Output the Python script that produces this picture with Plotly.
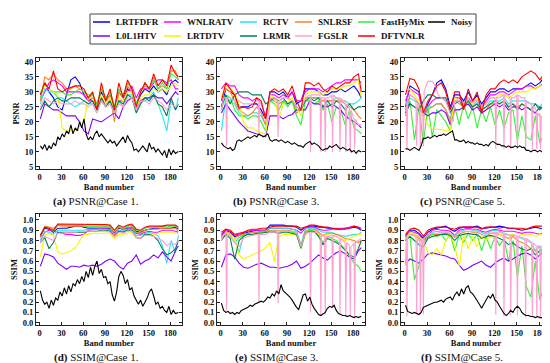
import plotly.graph_objects as go

W, H = 550, 363

# ---------------- data ----------------
bands = list(range(1, 188, 6)) + [191]          # 33 sampled band numbers
noisy_bands = list(range(1, 191, 3)) + [191]    # 65 sampled band numbers
x_tick_vals = [0, 30, 60, 90, 120, 150, 180]

# (a) PSNR @ Case 1
a_lrtfdfr = [29, 33, 30, 28, 25, 24, 29, 34, 35, 33, 29, 27, 28, 26, 30, 27, 29, 25, 30, 28, 31, 30, 26, 29, 31, 30, 32, 30, 31, 29, 33, 34, 33]
a_wnlratv = [27, 30, 33, 34, 33, 32, 30, 30, 30, 30, 29, 27, 27, 24, 28, 26, 27, 24, 27, 27, 30, 32, 28, 31, 31, 31, 33, 34, 34, 33, 34, 31, 31]
a_rctv = [26, 31, 30, 30, 28, 28, 27, 26, 25, 26, 27, 26, 26, 23, 27, 25, 26, 23, 27, 25, 29, 29, 24, 27, 27, 28, 30, 26, 22, 17, 27, 24, 28]
a_snlrsf = [27, 35, 34, 36, 34, 33, 31, 31, 32, 31, 30, 28, 29, 25, 31, 27, 29, 20, 30, 28, 32, 30, 25, 30, 32, 31, 35, 31, 32, 31, 37, 37, 34]
a_fasthymix = [28, 33, 31, 30, 30, 30, 29, 29, 30, 31, 30, 29, 29, 26, 31, 28, 30, 25, 31, 29, 33, 31, 26, 30, 33, 31, 34, 31, 33, 31, 36, 35, 34]
a_l0l1htv = [21, 26, 25, 24, 24, 23, 22, 22, 22, 20, 17, 16, 21, 20.5, 20, 21, 22, 23, 21, 25, 27, 28, 24, 27, 28, 28, 29, 28, 28, 26, 28, 30, 29]
a_lrtdtv = [30, 32, 31, 30, 29, 18, 17, 17, 17.5, 18.5, 20, 28, 28, 25, 29, 26, 28, 24, 28, 27, 30, 30, 25, 28, 29, 29, 31, 30, 31, 30, 32, 33, 32]
a_lrmr = [24, 27, 25, 27, 28, 27, 27, 28, 28, 28, 27, 26, 27, 24, 28, 25, 27, 23, 27, 26, 29, 28, 23, 26, 28, 27, 29, 26, 25, 22, 28, 24, 26]
a_fgslr = [25, 28, 27, 26, 27, 26, 26, 26, 27, 26, 26, 25, 26, 23, 27, 25, 26, 23, 26, 25, 28, 28, 24, 27, 27, 26, 28, 27, 26, 24, 26, 25, 26]
a_dftvnlr = [29, 33, 31, 37, 31, 30, 31, 31.5, 32, 32, 31, 28, 30, 24, 33, 27, 31, 24, 33, 28, 34, 31, 25, 30, 33, 31, 36, 32, 34, 32, 39, 36, 35]
a_noisy = [12, 11, 12.5, 10.5, 12, 11, 13, 12, 15, 14, 16, 15, 17, 16, 19, 16, 18, 17, 20, 18,
           21, 16, 14, 15, 14, 16, 17, 15, 16, 15, 14, 13, 14, 13, 13.5, 12, 13, 14, 15, 13,
           15.5, 14, 13, 10.5, 11, 10, 11, 12, 11, 10, 13, 11, 11.5, 10, 11, 10, 9, 10.5, 8, 11,
           9, 10.5, 9.5, 10, 10]

# (b) PSNR @ Case 3
b_lrtfdfr = [25, 31, 30, 29, 25, 25, 25, 26, 26, 24, 21, 30, 30, 29, 30, 28, 30, 26, 27, 31, 31, 31, 30, 29, 29, 30, 30, 31, 30, 31, 32, 30, 28]
b_wnlratv = [31, 33, 32, 32, 29, 28, 28, 27, 28, 26, 22, 29, 29, 28, 29, 28, 30, 27, 27, 30, 31, 31, 31, 30, 31, 32, 33, 33, 34, 34, 34, 34, 33]
b_rctv = [17, 28, 27, 26, 23, 22, 22, 23, 23, 22, 19, 27, 27, 26, 27, 26, 27, 24, 24, 28, 28, 28, 28, 27, 27, 27, 28, 27, 27, 26, 26, 27, 28]
b_snlrsf = [28, 31, 30, 27, 24, 23, 22, 23, 25, 23, 19, 28, 27, 26, 27, 26, 27, 23, 24, 28, 28, 28, 28, 27, 27, 27, 27, 27, 26, 25, 24, 22, 21]
b_fasthymix = [24, 29, 28, 24, 22, 22, 21, 22, 22, 20, 17, 27, 26, 24, 27, 25, 27, 22, 19, 27, 27, 26, 27, 24, 26, 20, 25, 24, 19, 24, 18, 17, 16]
b_l0l1htv = [23, 26, 24, 22, 20, 18.5, 17, 16.5, 16, 15.5, 15, 22, 22, 22, 21, 22, 22.5, 24, 24, 24, 27, 26, 26, 25, 25, 26, 25, 24, 22, 21, 20, 19, 18]
b_lrtdtv = [28, 32, 31, 30, 26, 20, 18, 18, 17, 16.5, 16, 29, 28, 21, 26, 27, 28, 25, 22, 29, 30, 30, 30, 29, 30, 31, 31, 31, 32, 32, 33, 34, 28]
b_lrmr = [25, 29, 26, 29, 30, 30, 30, 29, 29, 29, 26, 27, 28, 27, 28, 26, 27, 25, 24, 27, 28, 27, 28, 25, 27, 25, 27, 26, 24, 26, 24, 25, 25]
b_fgslr = [(1, 24), (4, 28), (7, 28), (8, 12), (9, 28), (13, 28), (19, 27), (25, 27), (31, 26), (37, 26),
           (43, 26), (49, 27), (51, 27), (52, 16), (53, 27), (57, 25), (61, 21), (64, 20), (67, 28), (73, 28),
           (77, 27), (78, 15), (79, 27), (85, 28), (91, 28), (97, 27), (103, 25), (109, 24), (115, 28), (121, 29),
           (122, 10), (123, 29), (129, 29), (135, 29), (136, 10), (137, 28), (141, 28), (142, 10), (143, 28), (147, 28),
           (151, 29), (152, 10), (153, 29), (157, 28), (161, 28), (162, 10), (163, 28), (166, 27), (169, 27), (170, 10),
           (171, 26), (174, 25), (175, 24), (176, 10), (177, 24), (180, 22), (181, 21), (182, 11), (183, 21), (187, 19),
           (191, 19)]
b_dftvnlr = [27, 33, 31, 29, 24.5, 25, 24.5, 25, 28, 27, 21, 30, 31, 30, 31, 29, 32, 27, 24, 33, 33, 32, 33, 31, 30, 32, 31, 32, 33, 33, 35, 36, 30]
b_noisy = [13, 12, 11.5, 11, 11.5, 10.5, 11, 13.5, 14, 13.5, 14, 14.5, 15, 14.5, 15, 15.5, 15, 16, 15.5, 15,
           15.5, 16, 14, 13.5, 14, 14, 13.5, 14, 13.5, 13, 13.5, 13, 12.5, 13, 12.5, 12, 12, 11.5, 12.5, 13,
           13.5, 12.5, 13, 12.5, 12, 11, 10.5, 11, 11, 12, 11.5, 12, 12.5, 11.5, 11, 11.5, 11, 10.5, 11, 10,
           10.5, 9.5, 10.5, 10, 10]

# (c) PSNR @ Case 5
c_lrtfdfr = [25, 32, 31, 30, 22, 26, 29, 33, 34, 31, 25, 29, 29, 27, 30, 27, 29, 26, 28, 30, 30, 31, 31, 30, 31, 31, 31, 32, 33, 32, 33, 35, 30]
c_wnlratv = [27, 31, 30, 29, 22, 25, 27, 28, 28, 27, 24, 28, 28, 26, 28, 26, 28, 25, 27, 29, 29, 30, 30, 29, 30, 31, 31, 32, 32, 31, 32, 33, 31]
c_rctv = [23, 28, 27, 26, 23, 25, 25, 26, 26, 24, 21, 27, 27, 25, 27, 25, 27, 24, 25, 27, 27, 27, 28, 26, 27, 27, 27, 27, 26, 26, 25, 27, 25]
c_snlrsf = [24, 29, 28, 26, 22, 24, 25, 26, 26, 24, 20, 27, 26, 25, 26, 25, 26, 23, 24, 26, 26, 26, 27, 25, 26, 25, 26, 25, 24, 23, 22, 21, 20]
c_fasthymix = [22, 27, 14, 25, 13, 25, 15, 24, 22, 20, 17, 25, 19, 26, 21, 25, 18, 24, 20, 25, 19, 24, 18, 23, 24, 14, 22, 15, 14, 22, 13, 16, 16]
c_l0l1htv = [23, 26, 25, 24, 23, 22, 23, 23, 24, 23, 19, 24, 24, 25, 26, 24, 25, 23, 24, 25, 26, 25, 26, 24, 25, 25, 24, 25, 24, 23, 25, 24, 22]
c_lrtdtv = [30, 31, 29, 27, 22, 19, 17.5, 17.5, 17.5, 17, 17, 28, 27, 26, 27, 26, 28, 25, 26, 28, 28, 29, 29, 28, 29, 30, 30, 30, 31, 31, 32, 32, 32]
c_lrmr = [25, 26, 25, 24, 27, 29, 29, 28, 28, 28, 23, 26, 27, 25, 27, 25, 26, 24, 25, 26, 27, 26, 27, 25, 26, 24, 26, 25, 24, 26, 24, 26, 26]
c_fgslr = [(1, 26), (2, 27), (3, 11), (4, 28), (7, 29), (13, 28), (15, 27), (16, 12), (17, 26), (19, 25),
           (20, 24), (21, 11), (22, 24), (24, 25), (25, 12), (26, 30), (31, 33.5), (37, 33.5), (41, 32), (45, 29),
           (49, 28), (55, 27), (61, 23), (65, 20), (67, 27), (73, 27), (79, 26), (85, 28), (91, 27), (97, 27),
           (103, 25), (109, 26), (115, 28), (121, 28), (122, 11), (123, 28), (127, 28), (132, 29), (133, 11), (134, 29),
           (138, 29), (141, 28), (142, 11), (143, 28), (147, 28), (150, 29), (151, 11), (152, 29), (157, 28), (161, 28),
           (162, 11), (163, 27), (167, 26), (170, 26), (171, 11), (172, 25), (174, 25), (176, 24), (177, 11), (178, 23),
           (180, 22), (181, 23), (182, 11), (183, 22), (187, 20), (191, 18)]
c_dftvnlr = [29, 34.5, 34, 31, 23, 27, 29, 32, 33, 30, 24, 30, 30, 24, 31, 27, 30, 23, 29, 31, 31, 33, 34, 33, 34, 33, 35, 36, 37, 36, 34, 36, 33]
c_noisy = [11, 11, 10.5, 11, 11.5, 11, 10.5, 12, 14.5, 14.5, 15, 14.5, 15, 15.5, 15, 15.5, 15.5, 16, 15.5, 16,
           16.5, 17, 14, 14, 13.5, 13.5, 14, 13, 13.5, 13, 13, 12.5, 13, 12.5, 12.5, 12, 12.5, 12, 13, 13.5,
           13, 12.5, 12.5, 12, 12, 11.5, 12, 11.5, 11.5, 12, 11.5, 12, 11.5, 11.5, 10.5, 10.5, 10, 10.5, 10.5, 10,
           10.5, 10, 11, 10.5, 10.5]

# (d) SSIM @ Case 1
d_lrtfdfr = [0.84, 0.92, 0.91, 0.88, 0.92, 0.92, 0.92, 0.93, 0.94, 0.94, 0.93, 0.92, 0.92, 0.92, 0.92, 0.92, 0.92, 0.87, 0.92, 0.91, 0.92, 0.93, 0.89, 0.88, 0.90, 0.91, 0.92, 0.92, 0.92, 0.92, 0.92, 0.93, 0.91]
d_wnlratv = [0.80, 0.88, 0.90, 0.90, 0.88, 0.87, 0.86, 0.86, 0.85, 0.85, 0.86, 0.90, 0.91, 0.91, 0.92, 0.92, 0.90, 0.85, 0.90, 0.89, 0.91, 0.92, 0.87, 0.86, 0.88, 0.89, 0.88, 0.88, 0.90, 0.90, 0.90, 0.89, 0.88]
d_rctv = [0.80, 0.89, 0.88, 0.86, 0.90, 0.90, 0.90, 0.90, 0.90, 0.90, 0.90, 0.91, 0.91, 0.91, 0.91, 0.91, 0.90, 0.85, 0.90, 0.89, 0.91, 0.91, 0.85, 0.85, 0.87, 0.88, 0.86, 0.85, 0.75, 0.58, 0.80, 0.68, 0.85]
d_snlrsf = [0.83, 0.94, 0.93, 0.92, 0.95, 0.94, 0.94, 0.94, 0.94, 0.94, 0.94, 0.93, 0.93, 0.93, 0.93, 0.93, 0.93, 0.86, 0.93, 0.91, 0.93, 0.93, 0.88, 0.87, 0.90, 0.91, 0.91, 0.91, 0.92, 0.92, 0.92, 0.92, 0.89]
d_fasthymix = [0.85, 0.93, 0.92, 0.89, 0.95, 0.95, 0.95, 0.95, 0.95, 0.95, 0.94, 0.94, 0.94, 0.94, 0.94, 0.94, 0.94, 0.89, 0.94, 0.92, 0.94, 0.95, 0.90, 0.89, 0.92, 0.93, 0.93, 0.93, 0.94, 0.93, 0.94, 0.94, 0.92]
d_l0l1htv = [0.55, 0.67, 0.66, 0.64, 0.58, 0.55, 0.52, 0.55, 0.55, 0.54, 0.56, 0.55, 0.56, 0.55, 0.57, 0.60, 0.62, 0.60, 0.55, 0.52, 0.58, 0.60, 0.66, 0.57, 0.60, 0.62, 0.66, 0.63, 0.69, 0.64, 0.60, 0.70, 0.75]
d_lrtdtv = [0.64, 0.85, 0.87, 0.85, 0.69, 0.67, 0.68, 0.70, 0.73, 0.80, 0.86, 0.86, 0.87, 0.87, 0.87, 0.87, 0.87, 0.82, 0.86, 0.85, 0.87, 0.88, 0.83, 0.82, 0.85, 0.86, 0.86, 0.87, 0.88, 0.88, 0.88, 0.87, 0.86]
d_lrmr = [0.78, 0.83, 0.72, 0.78, 0.88, 0.88, 0.88, 0.88, 0.88, 0.88, 0.88, 0.89, 0.89, 0.89, 0.90, 0.90, 0.89, 0.84, 0.89, 0.88, 0.90, 0.90, 0.83, 0.82, 0.86, 0.86, 0.84, 0.80, 0.72, 0.66, 0.68, 0.72, 0.80]
d_fgslr = [0.78, 0.84, 0.82, 0.80, 0.87, 0.87, 0.88, 0.88, 0.88, 0.89, 0.89, 0.89, 0.89, 0.89, 0.89, 0.89, 0.88, 0.84, 0.88, 0.87, 0.89, 0.89, 0.83, 0.82, 0.85, 0.85, 0.84, 0.82, 0.80, 0.75, 0.78, 0.76, 0.80]
d_dftvnlr = [0.85, 0.93, 0.92, 0.90, 0.96, 0.96, 0.96, 0.96, 0.96, 0.96, 0.955, 0.955, 0.955, 0.955, 0.955, 0.955, 0.95, 0.90, 0.95, 0.93, 0.95, 0.96, 0.91, 0.90, 0.93, 0.94, 0.94, 0.94, 0.94, 0.95, 0.95, 0.95, 0.93]
d_noisy = [0.31, 0.22, 0.18, 0.20, 0.14, 0.22, 0.17, 0.24, 0.22, 0.30, 0.26, 0.34, 0.28, 0.36, 0.30, 0.38, 0.36, 0.42, 0.38, 0.45,
           0.40, 0.50, 0.44, 0.54, 0.46, 0.55, 0.60, 0.48, 0.52, 0.44, 0.45, 0.38, 0.40, 0.27, 0.21, 0.30, 0.45, 0.50, 0.46, 0.38,
           0.42, 0.32, 0.34, 0.26, 0.22, 0.18, 0.22, 0.16, 0.20, 0.24, 0.30, 0.33, 0.26, 0.18, 0.20, 0.14, 0.16, 0.12, 0.10, 0.16,
           0.08, 0.12, 0.09, 0.10, 0.10]

# (e) SSIM @ Case 3
e_lrtfdfr = [0.86, 0.90, 0.88, 0.84, 0.85, 0.87, 0.88, 0.89, 0.90, 0.90, 0.90, 0.95, 0.95, 0.95, 0.95, 0.94, 0.94, 0.93, 0.90, 0.93, 0.94, 0.94, 0.93, 0.93, 0.92, 0.92, 0.91, 0.91, 0.92, 0.92, 0.93, 0.92, 0.90]
e_wnlratv = [0.84, 0.90, 0.89, 0.85, 0.86, 0.88, 0.89, 0.90, 0.90, 0.90, 0.90, 0.92, 0.92, 0.92, 0.92, 0.92, 0.91, 0.90, 0.87, 0.92, 0.93, 0.93, 0.91, 0.90, 0.90, 0.91, 0.91, 0.92, 0.92, 0.93, 0.94, 0.93, 0.92]
e_rctv = [0.80, 0.88, 0.86, 0.82, 0.68, 0.85, 0.87, 0.88, 0.88, 0.89, 0.89, 0.92, 0.92, 0.92, 0.92, 0.92, 0.91, 0.90, 0.76, 0.91, 0.92, 0.92, 0.90, 0.88, 0.88, 0.88, 0.86, 0.85, 0.84, 0.85, 0.86, 0.86, 0.88]
e_snlrsf = [0.83, 0.88, 0.87, 0.82, 0.85, 0.86, 0.87, 0.88, 0.88, 0.89, 0.89, 0.90, 0.90, 0.90, 0.90, 0.90, 0.89, 0.88, 0.74, 0.89, 0.91, 0.91, 0.88, 0.85, 0.87, 0.87, 0.86, 0.84, 0.82, 0.81, 0.80, 0.78, 0.80]
e_fasthymix = [0.82, 0.87, 0.84, 0.78, 0.83, 0.85, 0.86, 0.85, 0.87, 0.88, 0.88, 0.89, 0.89, 0.88, 0.89, 0.89, 0.88, 0.87, 0.72, 0.88, 0.90, 0.89, 0.85, 0.78, 0.84, 0.82, 0.80, 0.76, 0.72, 0.65, 0.58, 0.55, 0.50]
e_l0l1htv = [0.54, 0.66, 0.67, 0.64, 0.58, 0.54, 0.53, 0.55, 0.57, 0.58, 0.56, 0.54, 0.54, 0.53, 0.54, 0.55, 0.57, 0.60, 0.53, 0.55, 0.58, 0.62, 0.66, 0.63, 0.61, 0.65, 0.68, 0.70, 0.67, 0.64, 0.62, 0.70, 0.73]
e_lrtdtv = [0.80, 0.88, 0.86, 0.82, 0.66, 0.62, 0.64, 0.66, 0.68, 0.70, 0.73, 0.78, 0.60, 0.84, 0.86, 0.86, 0.86, 0.85, 0.73, 0.86, 0.88, 0.88, 0.86, 0.84, 0.86, 0.85, 0.84, 0.82, 0.80, 0.82, 0.84, 0.86, 0.86]
e_lrmr = [0.80, 0.86, 0.82, 0.62, 0.80, 0.84, 0.86, 0.86, 0.87, 0.87, 0.88, 0.88, 0.88, 0.87, 0.88, 0.88, 0.87, 0.86, 0.73, 0.87, 0.89, 0.89, 0.84, 0.76, 0.82, 0.80, 0.78, 0.75, 0.70, 0.66, 0.64, 0.72, 0.80]
e_fgslr = [(1, 0.80), (4, 0.86), (7, 0.86), (8, 0.12), (9, 0.86), (13, 0.85), (19, 0.78), (25, 0.74), (31, 0.82), (37, 0.84),
           (43, 0.85), (49, 0.86), (51, 0.86), (52, 0.20), (53, 0.86), (57, 0.86), (61, 0.86), (67, 0.88), (73, 0.88), (77, 0.88),
           (78, 0.19), (79, 0.88), (85, 0.89), (91, 0.89), (97, 0.89), (103, 0.88), (109, 0.74), (115, 0.87), (121, 0.88), (122, 0.10),
           (123, 0.88), (129, 0.88), (135, 0.86), (136, 0.07), (137, 0.85), (141, 0.84), (142, 0.08), (143, 0.84), (147, 0.84), (151, 0.85),
           (152, 0.14), (153, 0.85), (157, 0.84), (161, 0.82), (162, 0.08), (163, 0.82), (166, 0.80), (169, 0.78), (170, 0.06), (171, 0.78),
           (174, 0.76), (175, 0.74), (176, 0.06), (177, 0.74), (180, 0.76), (181, 0.78), (182, 0.05), (183, 0.78), (187, 0.80), (191, 0.82)]
e_dftvnlr = [0.88, 0.91, 0.90, 0.86, 0.87, 0.88, 0.90, 0.91, 0.91, 0.92, 0.92, 0.93, 0.94, 0.94, 0.94, 0.94, 0.94, 0.94, 0.92, 0.93, 0.95, 0.95, 0.94, 0.93, 0.93, 0.92, 0.92, 0.91, 0.91, 0.92, 0.94, 0.93, 0.90]
e_noisy = [0.19, 0.12, 0.10, 0.11, 0.09, 0.10, 0.08, 0.10, 0.09, 0.12, 0.13, 0.14, 0.15, 0.17, 0.16, 0.18, 0.19, 0.20, 0.21, 0.20,
           0.22, 0.25, 0.24, 0.28, 0.26, 0.31, 0.28, 0.37, 0.31, 0.29, 0.27, 0.25, 0.22, 0.18, 0.15, 0.13, 0.20, 0.27, 0.28, 0.21,
           0.25, 0.18, 0.14, 0.11, 0.08, 0.07, 0.09, 0.10, 0.14, 0.16, 0.15, 0.17, 0.12, 0.09, 0.08, 0.07, 0.07, 0.06, 0.07, 0.06,
           0.05, 0.06, 0.05, 0.06, 0.06]

# (f) SSIM @ Case 5
f_lrtfdfr = [0.84, 0.90, 0.90, 0.87, 0.82, 0.88, 0.91, 0.92, 0.93, 0.94, 0.91, 0.89, 0.92, 0.93, 0.93, 0.93, 0.94, 0.92, 0.92, 0.93, 0.93, 0.94, 0.93, 0.92, 0.92, 0.91, 0.90, 0.91, 0.92, 0.93, 0.92, 0.91, 0.90]
f_wnlratv = [0.84, 0.89, 0.88, 0.86, 0.80, 0.85, 0.90, 0.91, 0.90, 0.90, 0.89, 0.85, 0.90, 0.91, 0.92, 0.91, 0.91, 0.89, 0.88, 0.90, 0.91, 0.90, 0.89, 0.89, 0.89, 0.88, 0.87, 0.88, 0.88, 0.87, 0.86, 0.88, 0.88]
f_rctv = [0.82, 0.88, 0.86, 0.84, 0.78, 0.84, 0.88, 0.89, 0.88, 0.88, 0.87, 0.84, 0.88, 0.90, 0.91, 0.90, 0.90, 0.88, 0.86, 0.89, 0.90, 0.89, 0.87, 0.85, 0.86, 0.84, 0.82, 0.80, 0.78, 0.70, 0.75, 0.62, 0.70]
f_snlrsf = [0.84, 0.86, 0.85, 0.82, 0.78, 0.83, 0.86, 0.86, 0.86, 0.87, 0.86, 0.83, 0.86, 0.88, 0.89, 0.88, 0.88, 0.86, 0.84, 0.87, 0.87, 0.86, 0.84, 0.82, 0.84, 0.80, 0.78, 0.76, 0.72, 0.70, 0.68, 0.66, 0.72]
f_fasthymix = [0.80, 0.84, 0.42, 0.55, 0.82, 0.84, 0.86, 0.84, 0.86, 0.80, 0.86, 0.70, 0.86, 0.78, 0.87, 0.80, 0.86, 0.70, 0.84, 0.72, 0.84, 0.75, 0.82, 0.60, 0.80, 0.45, 0.75, 0.35, 0.25, 0.60, 0.22, 0.35, 0.46]
f_l0l1htv = [0.58, 0.62, 0.60, 0.58, 0.62, 0.67, 0.68, 0.67, 0.66, 0.65, 0.63, 0.62, 0.56, 0.51, 0.53, 0.56, 0.58, 0.60, 0.56, 0.54, 0.58, 0.61, 0.63, 0.60, 0.62, 0.65, 0.67, 0.68, 0.66, 0.62, 0.66, 0.70, 0.68]
f_lrtdtv = [0.80, 0.88, 0.86, 0.84, 0.80, 0.68, 0.66, 0.72, 0.66, 0.80, 0.86, 0.75, 0.55, 0.86, 0.72, 0.84, 0.74, 0.86, 0.80, 0.84, 0.82, 0.86, 0.84, 0.85, 0.86, 0.84, 0.86, 0.85, 0.86, 0.84, 0.86, 0.86, 0.85]
f_lrmr = [0.80, 0.84, 0.80, 0.76, 0.74, 0.82, 0.84, 0.85, 0.86, 0.86, 0.85, 0.80, 0.85, 0.86, 0.87, 0.86, 0.86, 0.82, 0.84, 0.85, 0.84, 0.82, 0.80, 0.76, 0.78, 0.74, 0.72, 0.70, 0.72, 0.66, 0.70, 0.72, 0.78]
f_fgslr = [(1, 0.56), (2, 0.84), (3, 0.06), (4, 0.84), (7, 0.86), (13, 0.85), (15, 0.84), (16, 0.08), (17, 0.82), (19, 0.80),
           (20, 0.80), (21, 0.08), (22, 0.80), (24, 0.80), (25, 0.08), (26, 0.82), (31, 0.86), (37, 0.87), (43, 0.87), (49, 0.88),
           (55, 0.88), (61, 0.87), (65, 0.84), (67, 0.86), (73, 0.88), (79, 0.89), (85, 0.89), (91, 0.89), (97, 0.89), (103, 0.86),
           (109, 0.87), (115, 0.87), (121, 0.88), (122, 0.08), (123, 0.88), (127, 0.88), (132, 0.87), (133, 0.06), (134, 0.87), (138, 0.86),
           (141, 0.85), (142, 0.07), (143, 0.85), (147, 0.85), (150, 0.84), (151, 0.07), (152, 0.84), (157, 0.83), (161, 0.82), (162, 0.05),
           (163, 0.82), (167, 0.80), (170, 0.78), (171, 0.05), (172, 0.78), (174, 0.76), (176, 0.75), (177, 0.05), (178, 0.75), (180, 0.74),
           (181, 0.74), (182, 0.05), (183, 0.74), (187, 0.76), (191, 0.78)]
f_dftvnlr = [0.86, 0.91, 0.92, 0.90, 0.84, 0.90, 0.92, 0.93, 0.93, 0.93, 0.92, 0.91, 0.93, 0.93, 0.93, 0.93, 0.93, 0.91, 0.93, 0.93, 0.93, 0.92, 0.93, 0.92, 0.92, 0.92, 0.92, 0.91, 0.93, 0.94, 0.94, 0.94, 0.90]
f_noisy = [0.17, 0.11, 0.10, 0.09, 0.10, 0.09, 0.08, 0.10, 0.15, 0.16, 0.17, 0.18, 0.19, 0.20, 0.20, 0.21, 0.22, 0.20, 0.23, 0.24,
           0.25, 0.22, 0.27, 0.30, 0.26, 0.33, 0.28, 0.34, 0.36, 0.30, 0.28, 0.25, 0.22, 0.18, 0.14, 0.18, 0.22, 0.26, 0.24, 0.28,
           0.22, 0.20, 0.16, 0.12, 0.09, 0.07, 0.09, 0.12, 0.10, 0.14, 0.16, 0.14, 0.10, 0.08, 0.07, 0.07, 0.06, 0.06, 0.05, 0.06,
           0.05, 0.05, 0.04, 0.05, 0.05]

METHODS = ["LRTFDFR", "WNLRATV", "RCTV", "SNLRSF", "FastHyMix", "L0L1HTV",
           "LRTDTV", "LRMR", "FGSLR", "DFTVNLR", "Noisy"]
COLORS = {
    "LRTFDFR": "#0000FF", "WNLRATV": "#FF00FF", "RCTV": "#22E6F2", "SNLRSF": "#FF7F27",
    "FastHyMix": "#33F033", "Noisy": "#000000", "L0L1HTV": "#8000FF", "LRTDTV": "#F5F500",
    "LRMR": "#00804F", "FGSLR": "#FF9FCF", "DFTVNLR": "#FF0000",
}


def unzip(pairs):
    return [p[0] for p in pairs], [p[1] for p in pairs]


def panel_series(lrtfdfr, wnlratv, rctv, snlrsf, fasthymix, l0l1htv, lrtdtv, lrmr, fgslr, dftvnlr, noisy):
    fg = unzip(fgslr) if isinstance(fgslr[0], tuple) else (bands, fgslr)
    return {
        "LRTFDFR": (bands, lrtfdfr), "WNLRATV": (bands, wnlratv), "RCTV": (bands, rctv),
        "SNLRSF": (bands, snlrsf), "FastHyMix": (bands, fasthymix), "L0L1HTV": (bands, l0l1htv),
        "LRTDTV": (bands, lrtdtv), "LRMR": (bands, lrmr), "FGSLR": fg,
        "DFTVNLR": (bands, dftvnlr), "Noisy": (noisy_bands, noisy),
    }


panels = [
    ("a", "PSNR", 1, panel_series(a_lrtfdfr, a_wnlratv, a_rctv, a_snlrsf, a_fasthymix, a_l0l1htv, a_lrtdtv, a_lrmr, a_fgslr, a_dftvnlr, a_noisy)),
    ("b", "PSNR", 3, panel_series(b_lrtfdfr, b_wnlratv, b_rctv, b_snlrsf, b_fasthymix, b_l0l1htv, b_lrtdtv, b_lrmr, b_fgslr, b_dftvnlr, b_noisy)),
    ("c", "PSNR", 5, panel_series(c_lrtfdfr, c_wnlratv, c_rctv, c_snlrsf, c_fasthymix, c_l0l1htv, c_lrtdtv, c_lrmr, c_fgslr, c_dftvnlr, c_noisy)),
    ("d", "SSIM", 1, panel_series(d_lrtfdfr, d_wnlratv, d_rctv, d_snlrsf, d_fasthymix, d_l0l1htv, d_lrtdtv, d_lrmr, d_fgslr, d_dftvnlr, d_noisy)),
    ("e", "SSIM", 3, panel_series(e_lrtfdfr, e_wnlratv, e_rctv, e_snlrsf, e_fasthymix, e_l0l1htv, e_lrtdtv, e_lrmr, e_fgslr, e_dftvnlr, e_noisy)),
    ("f", "SSIM", 5, panel_series(f_lrtfdfr, f_wnlratv, f_rctv, f_snlrsf, f_fasthymix, f_l0l1htv, f_lrtdtv, f_lrmr, f_fgslr, f_dftvnlr, f_noisy)),
]

# ---------------- layout geometry (pixels) ----------------
COLS_PX = [(28, 174), (209, 357), (393, 543)]
ROWS_PX = [(50, 161), (206, 317)]
CAPTION_X_PX = [88, 268, 454]
CAPTION_Y_PX = [194, 349]


def px_x(x):
    return x / W


def px_y(y):
    return 1 - y / H


SERIF = "Liberation Serif, Times New Roman, serif"
tickfont = dict(family=SERIF, size=8.5, color="#111", weight="bold")
titlefont = dict(family=SERIF, size=8.5, color="#111", weight="bold")

fig = go.Figure()
layout = dict(
    width=W, height=H, margin=dict(l=0, r=0, t=0, b=0),
    paper_bgcolor="white", plot_bgcolor="white", showlegend=False,
    annotations=[], shapes=[],
)

for k, (letter, metric, case, series) in enumerate(panels):
    idx = "" if k == 0 else str(k + 1)
    row, col = divmod(k, 3)
    xs = "x" + idx
    ys = "y" + idx
    for m in METHODS:
        xv, yv = series[m]
        fig.add_trace(go.Scatter(
            x=xv, y=yv, mode="lines", name=m, xaxis=xs, yaxis=ys,
            line=dict(color=COLORS[m], width=1.1), showlegend=False,
        ))
    cx0, cx1 = COLS_PX[col]
    ry0, ry1 = ROWS_PX[row]
    layout["xaxis" + idx] = dict(
        domain=[px_x(cx0), px_x(cx1)], anchor=ys, range=[-5, 196],
        tickvals=x_tick_vals, ticks="inside", ticklen=3, tickcolor="#222",
        showline=True, linecolor="#222", linewidth=1, mirror="ticks",
        showgrid=False, zeroline=False, tickfont=tickfont,
        title=dict(text="Band number", font=titlefont, standoff=1),
        automargin=False,
    )
    if metric == "PSNR":
        yr = dict(range=[4.3, 41.3], tick0=5, dtick=5)
    else:
        yr = dict(range=[-0.022, 1.058], tick0=0, dtick=0.1, tickformat=".1f")
    layout["yaxis" + idx] = dict(
        domain=[px_y(ry1), px_y(ry0)], anchor=xs,
        ticks="inside", ticklen=3, tickcolor="#222",
        showline=True, linecolor="#222", linewidth=1, mirror="ticks",
        showgrid=False, zeroline=False, tickfont=tickfont,
        title=dict(text=metric, font=titlefont, standoff=3),
        automargin=False, **yr,
    )
    layout["annotations"].append(dict(
        text=f"<b>({letter})</b> {metric}@Case {case}.",
        x=px_x(CAPTION_X_PX[col]), y=px_y(CAPTION_Y_PX[row]),
        xref="paper", yref="paper", xanchor="center", yanchor="middle",
        showarrow=False, font=dict(family=SERIF, size=11, color="#111"),
    ))

# ---------------- manual legend ----------------
legend_rows = [["LRTFDFR", "WNLRATV", "RCTV", "SNLRSF", "FastHyMix", "Noisy"],
               ["L0L1HTV", "LRTDTV", "LRMR", "FGSLR", "DFTVNLR"]]
legend_text_x = [106, 177, 253, 308, 371, 441]
legend_row_y = [14, 28]
layout["shapes"].append(dict(
    type="rect", xref="paper", yref="paper",
    x0=px_x(82), x1=px_x(468), y0=px_y(36), y1=px_y(6),
    line=dict(color="#444", width=1), fillcolor="white", layer="below",
))
for r, names in enumerate(legend_rows):
    for c, name in enumerate(names):
        tx = legend_text_x[c]
        yy = px_y(legend_row_y[r])
        layout["shapes"].append(dict(
            type="line", xref="paper", yref="paper",
            x0=px_x(tx - 21), x1=px_x(tx - 4), y0=yy, y1=yy,
            line=dict(color=COLORS[name], width=1.5),
        ))
        layout["annotations"].append(dict(
            text=name, x=px_x(tx), y=yy, xref="paper", yref="paper",
            xanchor="left", yanchor="middle", showarrow=False,
            font=dict(family=SERIF, size=9, color="#111", weight="bold"),
        ))

fig.update_layout(**layout)
fig.write_html("out.html")
